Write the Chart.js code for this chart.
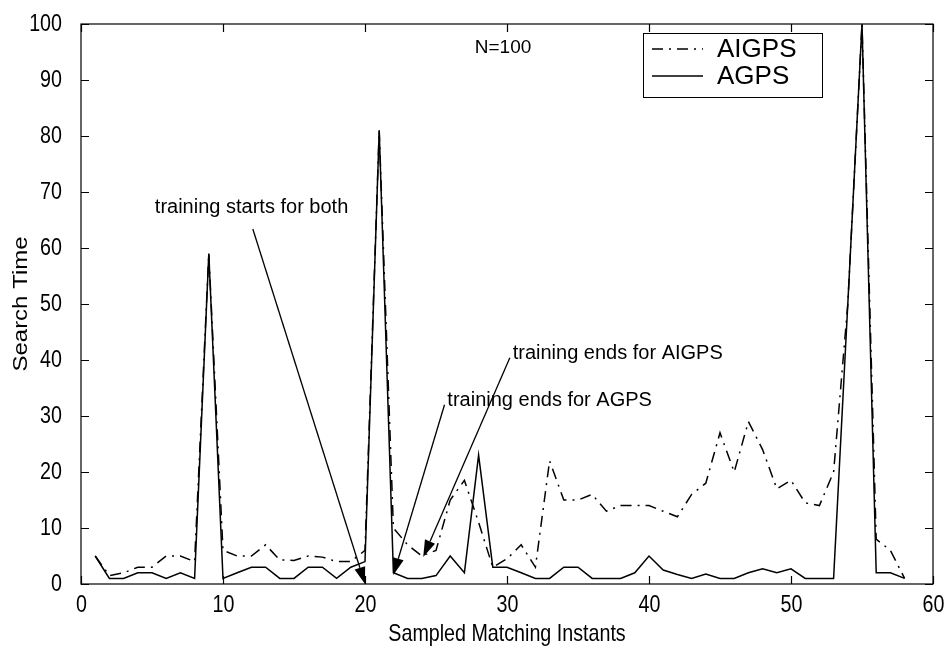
<!DOCTYPE html>
<html>
<head>
<meta charset="utf-8">
<script src="https://cdn.jsdelivr.net/npm/chart.js@4/dist/chart.umd.min.js"></script>
<style>
  html, body { margin: 0; padding: 0; background: #fff; }
</style>
</head>
<body>
<canvas id="chart" width="952" height="657"></canvas>
<script>
// sampled matching instants and search times
const instants = [1, 2, 3, 4, 5, 6, 7, 8, 9, 10, 11, 12, 13, 14, 15, 16, 17, 18, 19, 20,
  21, 22, 23, 24, 25, 26, 27, 28, 29, 30, 31, 32, 33, 34, 35, 36, 37, 38, 39, 40,
  41, 42, 43, 44, 45, 46, 47, 48, 49, 50, 51, 52, 53, 54, 55, 56, 57, 58];
const aigps = [5, 1.5, 2, 3, 3, 5, 5, 4, 59, 6, 5, 5, 7, 4.3, 4.2, 5, 4.8, 4, 4, 6,
  81, 10, 7, 5, 6, 15, 18.5, 11, 3, 4.5, 7, 3, 22, 15, 15, 16, 13, 14, 14, 14,
  13, 12, 16, 18, 27, 20, 29, 24, 17, 18.5, 14.5, 14, 20, 50, 100, 8, 6, 1];
const agps = [5, 1, 1, 2, 2, 1, 2, 1, 59, 1, 2, 3, 3, 1, 1, 3, 3, 1, 3, 4,
  81, 2, 1, 1, 1.5, 5, 2, 23, 3, 3, 2, 1, 1, 3, 3, 1, 1, 1, 2, 5,
  2.5, 1.7, 1, 1.8, 1, 1, 2, 2.7, 2, 2.7, 1, 1, 1, 50, 100, 2, 2, 1];
const xTicks = [0, 10, 20, 30, 40, 50, 60];
const yTicks = [0, 10, 20, 30, 40, 50, 60, 70, 80, 90, 100];
const xTitle = 'Sampled Matching Instants';
const yTitle = 'Search Time';

// annotation text + arrow, in data units
const notes = [
  { text: 'training starts for both', at: [5.2, 67.3], from: [12.1, 63.4], to: [20, 0] },
  { text: 'training ends for AIGPS', at: [30.4, 41.25], from: [30.2, 40.4], to: [24.1, 4.8] },
  { text: 'training ends for AGPS', at: [25.8, 32.7], from: [25.6, 32.0], to: [22.0, 1.6] }
];

const FONT = "'Liberation Sans', Arial, sans-serif";
const DASHDOT = [11, 6, 2, 6];
const NARROW = 0.82; // axis text in the scan is squeezed sideways

const toPts = (xs, ys) => xs.map((v, i) => ({ x: v, y: ys[i] }));

function text(ctx, str, x, y, size, align, sx, sy, rot) {
  ctx.save();
  ctx.translate(x, y);
  if (rot) ctx.rotate(rot);
  ctx.scale(sx, sy);
  ctx.font = size + 'px ' + FONT;
  ctx.textAlign = align;
  ctx.textBaseline = 'middle';
  ctx.fillText(str, 0, 0);
  ctx.restore();
}

function arrow(ctx, x1, y1, x2, y2) {
  const ang = Math.atan2(y2 - y1, x2 - x1);
  const len = 17, half = 5.5;
  const bx = x2 - len * Math.cos(ang), by = y2 - len * Math.sin(ang);
  ctx.beginPath();
  ctx.moveTo(x1, y1);
  ctx.lineTo(bx, by);
  ctx.stroke();
  ctx.beginPath();
  ctx.moveTo(x2, y2);
  ctx.lineTo(bx + half * Math.sin(ang), by - half * Math.cos(ang));
  ctx.lineTo(bx - half * Math.sin(ang), by + half * Math.cos(ang));
  ctx.closePath();
  ctx.fill();
}

const decor = {
  id: 'decor',
  afterDatasetsDraw(chart) {
    const { ctx, chartArea: a, scales: { x, y } } = chart;
    ctx.save();
    ctx.strokeStyle = '#000';
    ctx.fillStyle = '#000';
    ctx.lineWidth = 1.2;
    ctx.setLineDash([]);
    ctx.strokeRect(a.left, a.top, a.right - a.left, a.bottom - a.top);

    // inward ticks on all four sides + labels
    ctx.beginPath();
    xTicks.forEach(v => {
      const px = Math.round(x.getPixelForValue(v)) + 0.5;
      ctx.moveTo(px, a.bottom); ctx.lineTo(px, a.bottom - 8);
      ctx.moveTo(px, a.top); ctx.lineTo(px, a.top + 8);
      text(ctx, String(v), px, a.bottom + 21, 24, 'center', NARROW, 1);
    });
    yTicks.forEach(v => {
      const py = Math.round(y.getPixelForValue(v)) + 0.5;
      ctx.moveTo(a.left, py); ctx.lineTo(a.left + 8, py);
      ctx.moveTo(a.right, py); ctx.lineTo(a.right - 8, py);
      text(ctx, String(v), a.left - 19, py, 24, 'right', NARROW, 1);
    });
    ctx.stroke();

    text(ctx, xTitle, (a.left + a.right) / 2, 634, 24, 'center', NARROW, 1);
    text(ctx, yTitle, 22, (a.top + a.bottom) / 2, 24, 'center', 1, NARROW, -Math.PI / 2);

    // annotations
    ctx.lineWidth = 1.3;
    notes.forEach(n => {
      text(ctx, n.text, x.getPixelForValue(n.at[0]), y.getPixelForValue(n.at[1]), 20, 'left', 1, 1);
      arrow(ctx, x.getPixelForValue(n.from[0]), y.getPixelForValue(n.from[1]),
        x.getPixelForValue(n.to[0]), y.getPixelForValue(n.to[1]));
    });

    text(ctx, 'N=100', 503, 48, 19, 'center', 1, 1);

    // legend box
    ctx.fillStyle = '#fff';
    ctx.fillRect(643, 33, 179, 64);
    ctx.lineWidth = 1;
    ctx.strokeRect(643.5, 33.5, 179, 64);
    ctx.fillStyle = '#000';
    ctx.lineWidth = 1.5;
    const rows = [['AIGPS', DASHDOT, 49], ['AGPS', [], 76]];
    rows.forEach(([label, dash, ry]) => {
      ctx.setLineDash(dash);
      ctx.beginPath();
      ctx.moveTo(652, ry); ctx.lineTo(703, ry);
      ctx.stroke();
      ctx.setLineDash([]);
      text(ctx, label, 717, ry + 1, 26, 'left', 1, 1);
    });
    ctx.restore();
  }
};

new Chart(document.getElementById('chart'), {
  type: 'line',
  data: {
    datasets: [
      { label: 'AIGPS', data: toPts(instants, aigps), borderColor: '#000', borderWidth: 1.5,
        borderDash: DASHDOT, pointRadius: 0, fill: false, tension: 0 },
      { label: 'AGPS', data: toPts(instants, agps), borderColor: '#000', borderWidth: 1.5,
        pointRadius: 0, fill: false, tension: 0 }
    ]
  },
  options: {
    responsive: false,
    animation: false,
    layout: { padding: { top: 24, right: 19, bottom: 0, left: 0 } },
    plugins: { legend: { display: false }, tooltip: { enabled: false } },
    scales: {
      x: {
        type: 'linear', min: 0, max: 60,
        grid: { display: false, drawTicks: false },
        border: { display: false },
        ticks: { display: false, stepSize: 10 },
        afterFit: s => { s.height = 73; }
      },
      y: {
        min: 0, max: 100,
        grid: { display: false, drawTicks: false },
        border: { display: false },
        ticks: { display: false, stepSize: 10 },
        afterFit: s => { s.width = 81; }
      }
    }
  },
  plugins: [decor]
});
</script>
</body>
</html>
